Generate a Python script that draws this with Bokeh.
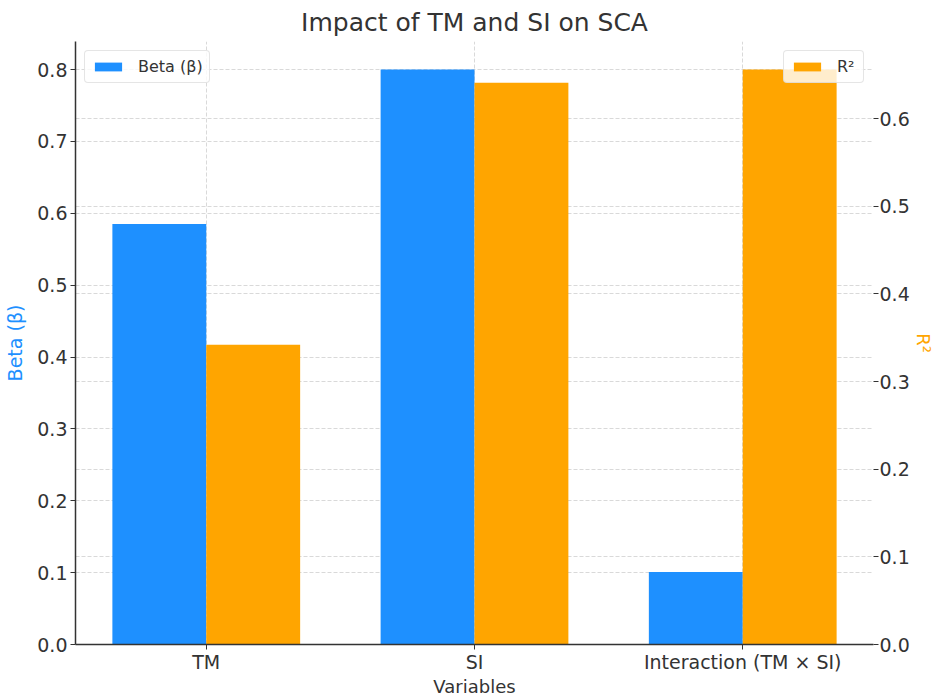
import numpy as np
from bokeh.plotting import figure
from bokeh.models import (ColumnDataSource, Range1d, LinearAxis, FixedTicker,
                          Legend, LegendItem, Grid, NumeralTickFormatter)
from bokeh.embed import file_html
from bokeh.resources import INLINE

categories = ["TM", "SI", "Interaction (TM × SI)"]
beta = [0.585, 0.800, 0.101]
r2 = [0.342, 0.641, 0.656]
beta_ticks = [0.0, 0.1, 0.2, 0.3, 0.4, 0.5, 0.6, 0.7, 0.8]
r2_ticks = [0.0, 0.1, 0.2, 0.3, 0.4, 0.5, 0.6]

BLUE = "#1E90FF"
ORANGE = "#FFA500"
TXT = "#333333"
FONT = "DejaVu Sans"
bar_w = 0.35

idx = np.arange(len(categories))
src = ColumnDataSource(dict(
    x_beta=idx - bar_w / 2,
    x_r2=idx + bar_w / 2,
    beta=beta,
    r2=r2,
))

p = figure(width=936, height=699, output_backend="svg", toolbar_location=None,
           x_range=Range1d(-0.4875, 2.4875), y_range=Range1d(0, 0.839),
           min_border_left=75, min_border_right=61, min_border_top=41,
           min_border_bottom=54)
p.extra_y_ranges = {"r2": Range1d(0, 0.688)}
p.outline_line_color = None
p.background_fill_color = "white"
p.border_fill_color = "white"

p.title.text = "Impact of TM and SI on SCA"
p.title.align = "center"
p.title.text_font = FONT
p.title.text_font_size = "25px"
p.title.text_font_style = "normal"
p.title.text_color = TXT

r_beta = p.vbar(x="x_beta", top="beta", width=bar_w, source=src,
                fill_color=BLUE, line_color=None)
r_r2 = p.vbar(x="x_r2", top="r2", width=bar_w, source=src,
              fill_color=ORANGE, line_color=None, y_range_name="r2")

def style_axis(ax):
    ax.major_label_text_font = FONT
    ax.major_label_text_font_size = "19px"
    ax.major_label_text_color = TXT
    ax.axis_label_text_font = FONT
    ax.axis_label_text_font_size = "19px"
    ax.axis_label_text_font_style = "normal"
    ax.minor_tick_line_color = None
    ax.major_tick_out = 5
    ax.major_tick_in = 0
    ax.major_tick_line_color = TXT
    ax.axis_line_color = TXT
    ax.axis_line_width = 1.5
    ax.major_label_standoff = 3

# x axis
xa = p.xaxis[0]
style_axis(xa)
xa.ticker = FixedTicker(ticks=list(idx))
xa.major_label_overrides = {int(i): c for i, c in zip(idx, categories)}
xa.axis_label = "Variables"
xa.axis_label_text_color = TXT
xa.axis_label_text_font_size = "18px"
xa.major_label_standoff = 1
xa.axis_label_standoff = 0

# left axis
ya = p.yaxis[0]
style_axis(ya)
ya.ticker = FixedTicker(ticks=beta_ticks)
ya.formatter = NumeralTickFormatter(format="0.0")
ya.axis_label = "Beta (β)"
ya.axis_label_text_color = BLUE
ya.axis_label_standoff = 8

# right axis
ra = LinearAxis(y_range_name="r2", ticker=FixedTicker(ticks=r2_ticks),
                formatter=NumeralTickFormatter(format="0.0"), axis_label="R²")
style_axis(ra)
ra.axis_line_color = None
ra.axis_label_text_color = ORANGE
ra.axis_label_text_font_size = "18px"
ra.major_label_standoff = 1
ra.axis_label_standoff = 0
p.add_layout(ra, "right")

# grids
for g in p.grid:
    g.grid_line_color = "#BBBBBB"
    g.grid_line_dash = "4 2"
    g.grid_line_width = 0.8
    g.grid_line_alpha = 0.7
g2 = Grid(dimension=1, axis=ra, y_range_name="r2", grid_line_color="#BBBBBB",
          grid_line_dash="4 2", grid_line_width=0.8, grid_line_alpha=0.7)
p.add_layout(g2, "center")

def make_legend(label, rend, loc):
    lg = Legend(items=[LegendItem(label=label, renderers=[rend])], location=loc)
    lg.label_text_font = FONT
    lg.label_text_font_size = "16px"
    lg.label_text_color = TXT
    lg.border_line_color = "#CCCCCC"
    lg.border_line_width = 1
    lg.border_radius = 4
    lg.background_fill_alpha = 0.8
    lg.glyph_width = 34
    lg.glyph_height = 11
    lg.padding = 6
    lg.margin = 9
    lg.spacing = 0
    lg.label_standoff = 13
    return lg

p.add_layout(make_legend("Beta (β)", r_beta, "top_left"), "center")
p.add_layout(make_legend("R²", r_r2, "top_right"), "center")

open("out.html", "w").write(file_html(p, INLINE))
